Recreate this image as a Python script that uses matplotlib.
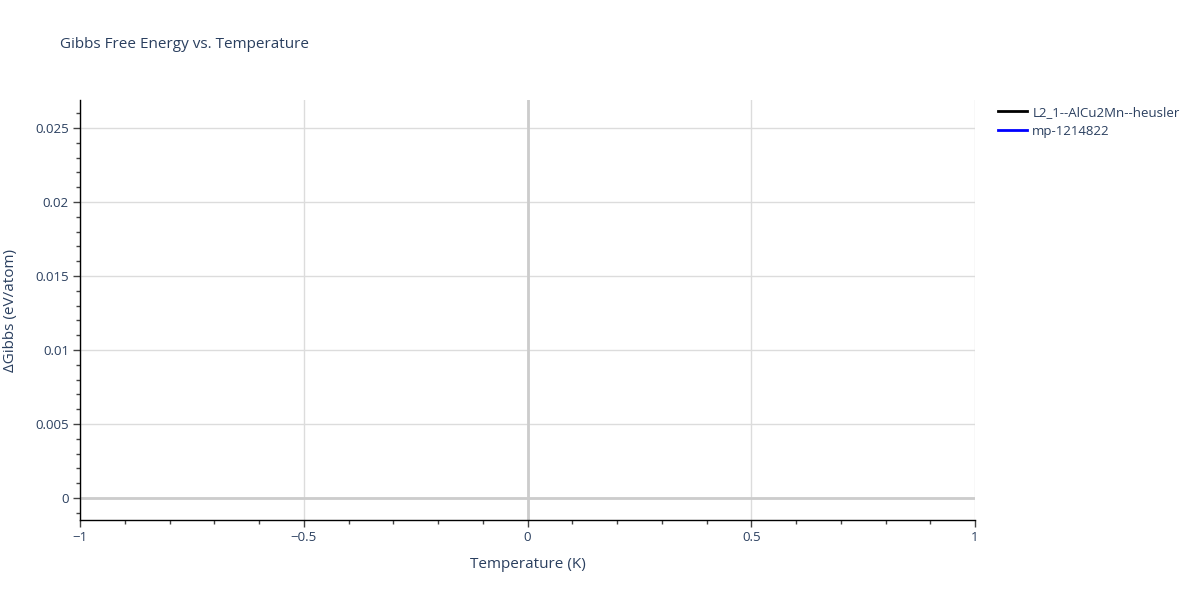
import matplotlib.pyplot as plt
from matplotlib.ticker import MultipleLocator, FuncFormatter

# the two traces carry no visible points in the reference
series_names = ["L2_1--AlCu2Mn--heusler", "mp-1214822"]
series_colors = ["black", "blue"]
temperatures = [[], []]
gibbs = [[], []]

x_ticks = [-1, -0.5, 0, 0.5, 1]
y_ticks = [0, 0.005, 0.01, 0.015, 0.02, 0.025]

TEXT = "#2a3f5f"
plt.rcParams["font.family"] = ["Open Sans", "DejaVu Sans"]

fig = plt.figure(figsize=(12, 6), dpi=100)
ax = fig.add_axes([80 / 1200, 80 / 600, 895 / 1200, 420 / 600])

for t, g, name, color in zip(temperatures, gibbs, series_names, series_colors):
    ax.plot(t, g, color=color, linewidth=2, label=name)

ax.set_xlim(-1, 1)
ax.set_ylim(-0.001486, 0.02689)

ax.set_xticks(x_ticks)
ax.set_yticks(y_ticks)
ax.xaxis.set_minor_locator(MultipleLocator(0.1))
ax.yaxis.set_minor_locator(MultipleLocator(0.001))


def fmt(v, pos):
    s = f"{v:g}"
    return s.replace("-", "\u2212")


ax.xaxis.set_major_formatter(FuncFormatter(fmt))
ax.yaxis.set_major_formatter(FuncFormatter(fmt))

ax.grid(True, which="major", color="#dcdcdc", linewidth=1)
ax.axvline(0, color="#cccccc", linewidth=2, zorder=1)
ax.axhline(0, color="#cccccc", linewidth=2, zorder=1)
ax.set_axisbelow(True)

for side in ["top", "right"]:
    ax.spines[side].set_visible(False)
for side in ["left", "bottom"]:
    ax.spines[side].set_color("black")
    ax.spines[side].set_linewidth(1)

ax.tick_params(which="major", direction="out", length=5, width=1, color="#444444",
               labelcolor=TEXT, labelsize=9.5, pad=3)
ax.tick_params(which="minor", direction="out", length=3, width=1, color="#444444")

ax.set_xlabel("Temperature (K)", color=TEXT, fontsize=11, labelpad=9)
ax.set_ylabel("\u0394Gibbs (eV/atom)", color=TEXT, fontsize=11, labelpad=12)

fig.text(60 / 1200, 1 - 45 / 600, "Gibbs Free Energy vs. Temperature",
         color=TEXT, fontsize=11, va="center", ha="left")

leg = ax.legend(loc="upper left", bbox_to_anchor=(998 / 1200, 1 - 106 / 600),
                bbox_transform=fig.transFigure, frameon=False,
                fontsize=9.5, handlelength=2.2, handletextpad=0.4,
                labelspacing=0.45, borderaxespad=0, borderpad=0)
for text in leg.get_texts():
    text.set_color(TEXT)

fig.savefig("out.png")
